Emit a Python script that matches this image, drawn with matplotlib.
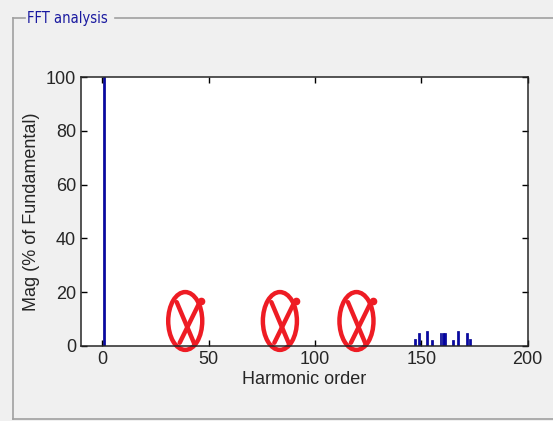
import matplotlib.pyplot as plt
from matplotlib.patches import Ellipse
from matplotlib.lines import Line2D

# harmonic spectrum (% of fundamental)
harmonics = [1, 147, 148.7, 149.6, 152.8, 155.1, 159, 160.3, 161, 165, 167.2, 171.3, 173]
magnitude = [100, 2.6, 4.7, 1.0, 5.5, 2.2, 5.0, 5.0, 5.0, 2.2, 5.5, 4.7, 2.6]

# hand-drawn red marks (harmonic order, magnitude)
mark_x = [39, 83.5, 119.5]
mark_y = [9.3, 9.3, 9.3]

plt.rcParams['font.family'] = ['Liberation Sans', 'DejaVu Sans']

fig = plt.figure(figsize=(5.53, 4.21), dpi=100)
fig.patch.set_facecolor('#f0f0f0')

# panel border
W, H = 553, 421
def px(x, y):
    return x / W, 1 - y / H
border = '#a0a0a0'
for (x0, y0), (x1, y1) in [((13, 18), (25, 18)), ((115, 18), (553, 18)),
                           ((13, 18), (13, 419)), ((13, 419), (553, 419))]:
    a, b = px(x0, y0)
    c, d = px(x1, y1)
    fig.add_artist(Line2D([a, c], [b, d], color=border, lw=1.2))
tx, ty = px(27, 18)
fig.text(tx, ty, 'FFT analysis', color='#1a1aa0', fontsize=10.5,
         family='DejaVu Sans', va='center', ha='left', stretch='condensed')

ax = fig.add_axes([81 / W, 1 - 346 / H, (527.7 - 81) / W, (346 - 77) / H])
ax.bar(harmonics, magnitude, width=0.9, color='#0808a8', edgecolor='#00008f', linewidth=0.5)

red = '#ee1c24'
for x, y in zip(mark_x, mark_y):
    ax.add_patch(Ellipse((x, y), 16.0, 21.5, fill=False, edgecolor=red, lw=3.2, clip_on=False))
    ax.plot([x - 4, x + 4.5], [y + 7, y - 8.9], color=red, lw=3.2, clip_on=False, solid_capstyle='round')
    ax.plot([x + 6.8, x - 2.6], [y + 7, y - 8.1], color=red, lw=3.2, clip_on=False, solid_capstyle='round')
    ax.plot([x + 7.6], [y + 7.6], 'o', color=red, ms=4.5, clip_on=False)

ax.set_xlim(-10, 200)
ax.set_ylim(0, 100)
ax.set_xticks([0, 50, 100, 150, 200])
ax.set_yticks([0, 20, 40, 60, 80, 100])
ax.tick_params(direction='in', top=True, right=True, labelsize=13, length=4, width=1,
               labelcolor='#262626')
for s in ax.spines.values():
    s.set_linewidth(1.1)
    s.set_color('#262626')
ax.set_xlabel('Harmonic order', fontsize=13, labelpad=2, color='#262626')
ax.set_ylabel('Mag (% of Fundamental)', fontsize=13, labelpad=4, color='#262626')

fig.savefig('out.png', dpi=100, facecolor=fig.get_facecolor())
